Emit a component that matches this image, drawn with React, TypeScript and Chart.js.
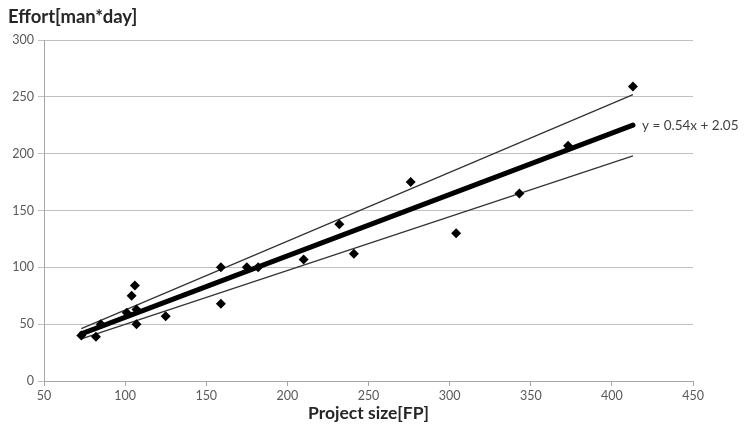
import React, { useEffect, useRef } from "react";
import { Chart, registerables } from "chart.js";

Chart.register(...registerables);

const sizeFP = [73, 82, 85, 101, 104, 106, 107, 107, 125, 159, 159, 175, 182, 210, 232, 241, 276, 304, 343, 373, 413];
const effort = [40, 39, 50, 60, 75, 84, 63, 50, 57, 100, 68, 100, 100, 107, 138, 112, 175, 130, 165, 207, 259];
const lineX = [73, 413];
const fitY = [41.5, 225.1];
const upperY = [46, 252];
const lowerY = [37, 198];
const xTicks = [50, 100, 150, 200, 250, 300, 350, 400, 450];
const yTicks = [0, 50, 100, 150, 200, 250, 300];
const equation = "y = 0.54x + 2.05";
const yTitle = "Effort[man*day]";
const xTitle = "Project size[FP]";

const FONT = "Lato, 'Open Sans', sans-serif";

export default function App() {
  const ref = useRef<HTMLCanvasElement | null>(null);
  useEffect(() => {
    if (!ref.current) return;
    const labelPlugin = {
      id: "labels",
      afterDraw(chart: any) {
        const ctx = chart.ctx;
        const xs = chart.scales.x;
        const ys = chart.scales.y;
        const ca = chart.chartArea;
        ctx.save();
        ctx.fillStyle = "#404040";
        ctx.font = `13.5px ${FONT}`;
        ctx.textBaseline = "middle";
        ctx.textAlign = "left";
        ctx.fillText(equation, xs.getPixelForValue(lineX[1]) + 9, ys.getPixelForValue(fitY[1]) + 1);
        ctx.fillStyle = "#262626";
        ctx.font = `bold 18.5px ${FONT}`;
        ctx.fillText(yTitle, 8, 17);
        ctx.font = `bold 17.5px ${FONT}`;
        ctx.textAlign = "center";
        ctx.fillText(xTitle, (ca.left + ca.right) / 2, 413);
        ctx.restore();
      },
    };
    const chart = new Chart(ref.current, {
      type: "scatter",
      data: {
        datasets: [
          {
            label: "data",
            data: sizeFP.map((x, i) => ({ x, y: effort[i] })),
            pointStyle: "rectRot",
            radius: 5,
            backgroundColor: "#000",
            borderColor: "#000",
            borderWidth: 0,
            order: 0,
          },
          {
            label: "fit",
            type: "line",
            data: lineX.map((x, i) => ({ x, y: fitY[i] })),
            borderColor: "#000",
            borderWidth: 5,
            pointRadius: 0,
            borderCapStyle: "round",
            order: 1,
          },
          {
            label: "upper",
            type: "line",
            data: lineX.map((x, i) => ({ x, y: upperY[i] })),
            borderColor: "#333",
            borderWidth: 1.3,
            pointRadius: 0,
            order: 2,
          },
          {
            label: "lower",
            type: "line",
            data: lineX.map((x, i) => ({ x, y: lowerY[i] })),
            borderColor: "#333",
            borderWidth: 1.3,
            pointRadius: 0,
            order: 2,
          },
        ],
      } as any,
      options: {
        animation: false,
        responsive: false,
        layout: { padding: { top: 40, right: 54, bottom: 0, left: 0 } },
        plugins: { legend: { display: false }, tooltip: { enabled: false } },
        scales: {
          x: {
            type: "linear",
            min: 50,
            max: 450,
            afterFit: (s: any) => { s.height = 51; },
            afterBuildTicks: (s: any) => { s.ticks = xTicks.map((v) => ({ value: v })); },
            grid: { drawOnChartArea: false, drawTicks: true, tickLength: 5, color: "#a6a6a6" },
            border: { display: true, color: "#a6a6a6" },
            ticks: { color: "#595959", font: { family: FONT, size: 12.5 }, padding: 2, maxRotation: 0 },
          },
          y: {
            type: "linear",
            min: 0,
            max: 300,
            afterFit: (s: any) => { s.width = 44; },
            afterBuildTicks: (s: any) => { s.ticks = yTicks.map((v) => ({ value: v })); },
            grid: { drawOnChartArea: true, drawTicks: true, tickLength: 6, color: "#bfbfbf" },
            border: { display: true, color: "#a6a6a6" },
            ticks: { color: "#595959", font: { family: FONT, size: 12.5 }, padding: 4 },
          },
        },
      } as any,
      plugins: [labelPlugin],
    });
    return () => chart.destroy();
  }, []);
  return (
    <canvas
      ref={ref}
      width={747}
      height={432}
      style={{ position: "absolute", left: 0, top: 0, width: 747, height: 432, background: "#fff" }}
    />
  );
}
